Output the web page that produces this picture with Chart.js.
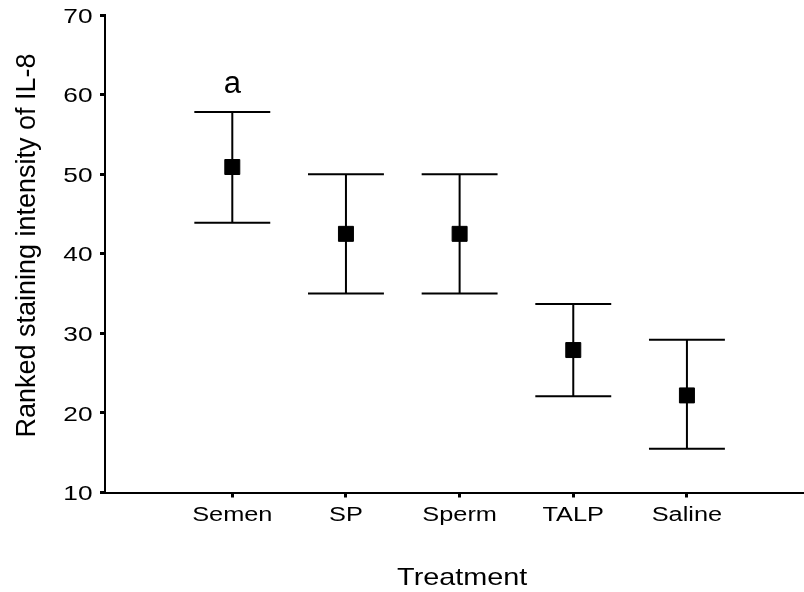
<!DOCTYPE html>
<html>
<head>
<meta charset="utf-8">
<title>IL-8 staining by treatment</title>
<script src="https://cdn.jsdelivr.net/npm/chart.js@4.4.1/dist/chart.umd.min.js"></script>
<style>
  html, body { margin: 0; padding: 0; background: #fff; overflow: hidden; }
  canvas { display: block; }
</style>
</head>
<body>
<canvas id="chart" width="804" height="592"></canvas>
<script>
// Ranked IL-8 staining intensity per treatment (mean with error range)
const treatments = ['Semen', 'SP', 'Sperm', 'TALP', 'Saline'];
const meanRank  = [50.9, 42.5, 42.5, 27.9, 22.2];
const upperRank = [57.8, 50.0, 50.0, 33.7, 29.2];
const lowerRank = [43.9, 35.0, 35.0, 22.1, 15.5];
const groupLetters = ['a', '', '', '', ''];
const yTicks = [10, 20, 30, 40, 50, 60, 70];
const yTitle = 'Ranked staining intensity of IL-8';
const xTitle = 'Treatment';

const FONT = '"Liberation Sans", Arial, Helvetica, sans-serif';
const CAP_HALF = 0.334; // half width of the error-bar caps, in category units

// Whiskers and caps, positioned through the chart's own scales
const errorBars = {
  id: 'errorBars',
  beforeDatasetsDraw(chart) {
    const { ctx, scales: { x, y } } = chart;
    ctx.save();
    ctx.strokeStyle = '#000';
    ctx.lineWidth = 2;
    treatments.forEach((_, i) => {
      const cx = x.getPixelForValue(i);
      const x0 = x.getPixelForValue(i - CAP_HALF);
      const x1 = x.getPixelForValue(i + CAP_HALF);
      const yu = y.getPixelForValue(upperRank[i]);
      const yl = y.getPixelForValue(lowerRank[i]);
      ctx.beginPath();
      ctx.moveTo(cx, yu); ctx.lineTo(cx, yl);
      ctx.moveTo(x0, yu); ctx.lineTo(x1, yu);
      ctx.moveTo(x0, yl); ctx.lineTo(x1, yl);
      ctx.stroke();
    });
    ctx.restore();
  }
};

// Draws a string with horizontally widened glyphs
function wideText(ctx, text, x, y, size, stretch, align) {
  ctx.save();
  ctx.font = size + 'px ' + FONT;
  ctx.textAlign = align;
  ctx.textBaseline = 'alphabetic';
  ctx.translate(x, y);
  ctx.scale(stretch, 1);
  ctx.fillText(text, 0, 0);
  ctx.restore();
}

// Tick labels, axis titles and the group letter
const textLayer = {
  id: 'textLayer',
  afterDraw(chart) {
    const { ctx, scales: { x, y } } = chart;
    ctx.save();
    ctx.fillStyle = '#000';

    // category labels under the x ticks
    x.ticks.forEach((t) => {
      wideText(ctx, treatments[t.value], x.getPixelForValue(t.value), x.top + 28.5, 19.5, 1.3, 'center');
    });

    // value labels beside the y ticks
    y.ticks.forEach((t) => {
      wideText(ctx, String(t.value), y.left + 92.5, y.getPixelForValue(t.value) + 7.6, 21, 1.25, 'right');
    });

    // group letters above the upper caps
    ctx.font = '31px ' + FONT;
    ctx.textAlign = 'center';
    ctx.textBaseline = 'alphabetic';
    groupLetters.forEach((t, i) => {
      if (!t) return;
      ctx.fillText(t, x.getPixelForValue(i), y.getPixelForValue(upperRank[i]) - 19);
    });

    // x-axis title
    wideText(ctx, xTitle, 462.2, 585.3, 24, 1.2, 'center');

    // y-axis title
    ctx.font = '27px ' + FONT;
    ctx.translate(35, 245.5);
    ctx.rotate(-Math.PI / 2);
    ctx.textAlign = 'center';
    ctx.textBaseline = 'alphabetic';
    ctx.fillText(yTitle, 0, 0);
    ctx.restore();
  }
};

const axisGrid = {
  display: true,
  drawOnChartArea: false,
  drawTicks: true,
  tickLength: 5,
  tickWidth: 3,
  tickColor: '#000'
};
const axisBorder = { display: true, color: '#000', width: 2 };

new Chart(document.getElementById('chart'), {
  type: 'scatter',
  data: {
    datasets: [{
      data: treatments.map((_, i) => ({ x: i, y: meanRank[i] })),
      pointStyle: 'rect',
      pointRadius: 10.6,
      pointHoverRadius: 10.6,
      pointBackgroundColor: '#000',
      pointBorderColor: '#000',
      pointBorderWidth: 1,
      showLine: false
    }]
  },
  options: {
    responsive: false,
    animation: false,
    events: [],
    layout: { autoPadding: false, padding: { top: 15, left: 0, right: 0, bottom: 0 } },
    plugins: {
      legend: { display: false },
      tooltip: { enabled: false }
    },
    scales: {
      x: {
        type: 'linear',
        min: -1.12,
        max: 5.03,
        afterBuildTicks: (s) => { s.ticks = treatments.map((_, i) => ({ value: i })); },
        afterFit: (s) => { s.height = 99.5; },
        grid: axisGrid,
        border: axisBorder,
        title: { display: false },
        ticks: { display: false }
      },
      y: {
        type: 'linear',
        min: 10,
        max: 70,
        afterBuildTicks: (s) => { s.ticks = yTicks.map((v) => ({ value: v })); },
        afterFit: (s) => { s.width = 105; },
        grid: axisGrid,
        border: axisBorder,
        title: { display: false },
        ticks: { display: false }
      }
    }
  },
  plugins: [errorBars, textLayer]
});
</script>
</body>
</html>
